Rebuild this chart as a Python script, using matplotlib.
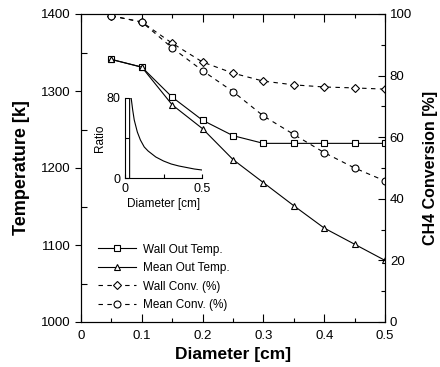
import matplotlib
matplotlib.use("Agg")
import matplotlib.pyplot as plt
from matplotlib.ticker import MultipleLocator

plt.rcParams['font.family'] = ['Liberation Sans', 'DejaVu Sans']

diameter = [0.05, 0.10, 0.15, 0.20, 0.25, 0.30, 0.35, 0.40, 0.45, 0.50]
wall_out_temp = [1341, 1331, 1292, 1262, 1242, 1232, 1232, 1232, 1232, 1232]
mean_out_temp = [1341, 1331, 1282, 1251, 1211, 1181, 1151, 1122, 1101, 1080]
wall_conv = [99.4, 97.4, 90.5, 84.4, 80.8, 78.2, 77.0, 76.3, 76.0, 75.6]
mean_conv = [99.4, 97.4, 89.0, 81.6, 74.8, 66.9, 60.9, 55.0, 50.0, 45.8]

x_ticks = [0, 0.1, 0.2, 0.3, 0.4, 0.5]
x_tick_labels = ['0', '0.1', '0.2', '0.3', '0.4', '0.5']

inset_d = [0.03, 0.03, 0.04, 0.05, 0.06, 0.08, 0.10, 0.125, 0.15, 0.20, 0.25, 0.30, 0.35, 0.40, 0.45, 0.50]
inset_ratio = [0, 80, 80, 68, 58, 46, 38, 31, 27, 21, 17, 14, 12, 10.5, 9, 8]

fig = plt.figure(figsize=(4.4, 3.67), dpi=100)
ax = fig.add_axes([81/440, 1-322/367, (385-81)/440, (322-14)/367])
ax2 = ax.twinx()

lw = 0.8
ms = 5
l1, = ax.plot(diameter, wall_out_temp, '-', color='black', lw=lw, marker='s', ms=ms, mfc='white', mec='black', mew=0.8, label='Wall Out Temp.')
l2, = ax.plot(diameter, mean_out_temp, '-', color='black', lw=lw, marker='^', ms=ms, mfc='white', mec='black', mew=0.8, label='Mean Out Temp.')
l3, = ax2.plot(diameter, wall_conv, '--', color='black', lw=lw, marker='D', ms=4, mfc='white', mec='black', mew=0.8, label='Wall Conv. (%)', dashes=(4, 4))
l4, = ax2.plot(diameter, mean_conv, '--', color='black', lw=lw, marker='o', ms=ms, mfc='white', mec='black', mew=0.8, label='Mean Conv. (%)', dashes=(4, 4))

ax.set_xlim(0, 0.5)
ax.set_ylim(1000, 1400)
ax2.set_ylim(0, 100)

ax.set_xticks(x_ticks)
ax.set_xticklabels(x_tick_labels)
ax.xaxis.set_minor_locator(MultipleLocator(0.05))
ax.yaxis.set_major_locator(MultipleLocator(100))
ax.yaxis.set_minor_locator(MultipleLocator(50))
ax2.yaxis.set_major_locator(MultipleLocator(20))
ax2.yaxis.set_minor_locator(MultipleLocator(10))

ax.tick_params(axis='x', which='both', direction='in', top=True, labelsize=9.5, width=0.8, pad=6)
ax.tick_params(axis='x', which='major', length=6)
ax.tick_params(axis='x', which='minor', length=3)
ax.tick_params(axis='y', which='major', direction='out', length=4, labelsize=9.5, width=0.8)
ax.tick_params(axis='y', which='minor', direction='in', length=4, width=0.8)
ax2.tick_params(axis='y', which='both', direction='in', labelsize=9.5, width=0.8)
ax2.tick_params(axis='y', which='major', length=5)
ax2.tick_params(axis='y', which='minor', length=3)

for a in (ax, ax2):
    for s in a.spines.values():
        s.set_linewidth(0.8)

ax.set_xlabel('Diameter [cm]', fontsize=12.5, fontweight='bold', labelpad=3)
ax.set_ylabel('Temperature [k]', fontsize=13, fontweight='bold', labelpad=8)
ax2.set_ylabel('CH4 Conversion [%]', fontsize=11.5, fontweight='bold', labelpad=8)

leg = ax.legend(handles=[l1, l2, l3, l4], loc='upper left', bbox_to_anchor=(0.04, 0.27),
                frameon=False, fontsize=8.5, handlelength=3.2, labelspacing=0.55,
                handletextpad=0.6, borderaxespad=0)

# inset
axi = fig.add_axes([125/440, 1-178/367, 77/440, 80/367])
axi.plot(inset_d, inset_ratio, '-', color='black', lw=0.8)
axi.set_xlim(0, 0.5)
axi.set_ylim(0, 80)
axi.set_xticks([0, 0.5])
axi.set_xticklabels(['0', '0.5'])
axi.set_yticks([0, 80])
axi.xaxis.set_minor_locator(MultipleLocator(0.25))
axi.yaxis.set_minor_locator(MultipleLocator(40))
axi.tick_params(which='both', direction='in', labelsize=9, width=0.8)
axi.tick_params(which='major', length=3)
axi.tick_params(which='minor', length=3)
axi.spines['top'].set_visible(False)
axi.spines['right'].set_visible(False)
axi.spines['left'].set_linewidth(0.8)
axi.spines['bottom'].set_linewidth(0.8)
axi.patch.set_alpha(0)
axi.set_xlabel('Diameter [cm]', fontsize=8.5, labelpad=2)
axi.set_ylabel('Ratio', fontsize=8.5, labelpad=0)

fig.savefig('out.png', dpi=100)
